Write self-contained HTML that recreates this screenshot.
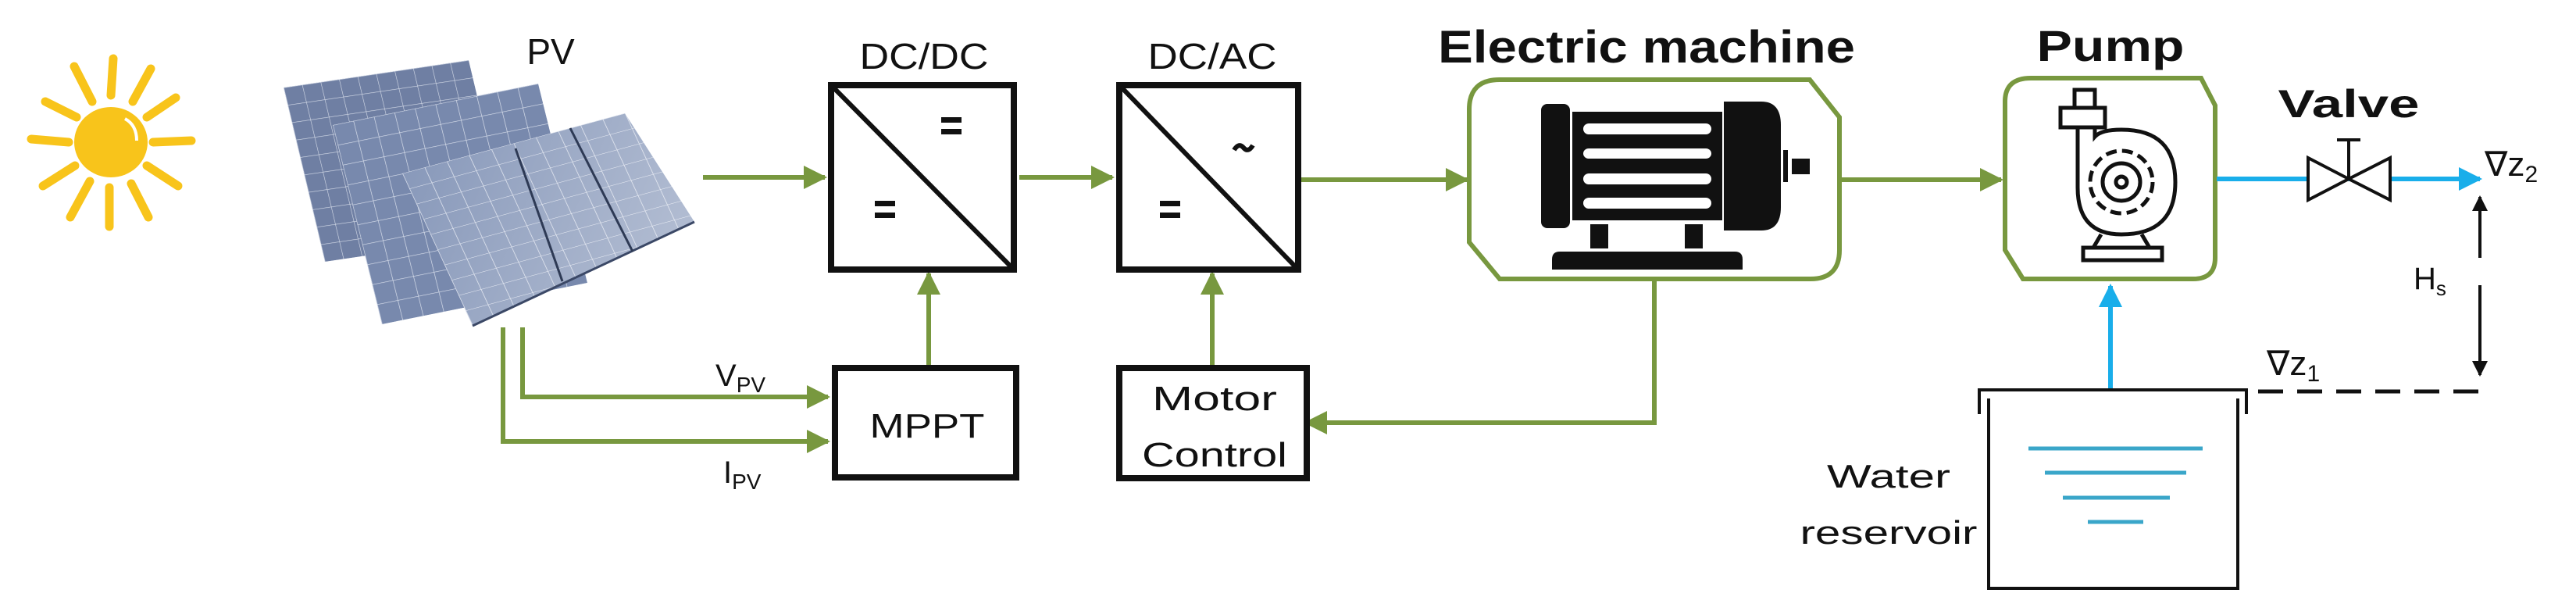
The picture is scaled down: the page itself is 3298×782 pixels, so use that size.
<!DOCTYPE html>
<html><head><meta charset="utf-8"><style>
html,body{margin:0;padding:0;background:#fff;}
svg{display:block;}
text{font-family:"Liberation Sans",sans-serif;fill:#111;}
</style></head><body>
<svg width="3298" height="782" viewBox="0 0 3298 782" xmlns="http://www.w3.org/2000/svg">
<defs>
<marker id="ag" viewBox="0 0 10 10" refX="9" refY="5" markerWidth="5" markerHeight="5" orient="auto" markerUnits="strokeWidth"><path d="M0,0 L10,5 L0,10 z" fill="#78983f"/></marker>
<marker id="ab" viewBox="0 0 10 10" refX="9" refY="5" markerWidth="5" markerHeight="5" orient="auto" markerUnits="strokeWidth"><path d="M0,0 L10,5 L0,10 z" fill="#19aeea"/></marker>
<marker id="ak" viewBox="0 0 10 10" refX="9" refY="5" markerWidth="5" markerHeight="8" orient="auto" markerUnits="strokeWidth"><path d="M0,0 L10,5 L0,10 z" fill="#111"/></marker>
<pattern id="p1" width="10" height="10" patternUnits="userSpaceOnUse" patternTransform="matrix(2.37,-0.35,0.53,2.23,363,112)">
<rect width="10" height="10" fill="#6f7fa3"/><path d="M0,0 H10 M0,0 V10" stroke="#d8deea" stroke-width="0.5"/></pattern>
<pattern id="p2" width="10" height="10" patternUnits="userSpaceOnUse" patternTransform="matrix(2.63,-0.53,0.63,2.55,426,160)">
<rect width="10" height="10" fill="#7889ad"/><path d="M0,0 H10 M0,0 V10" stroke="#dce2ee" stroke-width="0.5"/></pattern>
<pattern id="p3" width="10" height="10" patternUnits="userSpaceOnUse" patternTransform="matrix(2.85,-0.77,0.9,1.95,515,222)">
<rect width="10" height="10" fill="#8596b8"/><path d="M0,0 H10 M0,0 V10" stroke="#e4e8f2" stroke-width="0.5"/></pattern>
<linearGradient id="sh" x1="0" y1="0" x2="1" y2="0.3">
<stop offset="0" stop-color="#fff" stop-opacity="0"/><stop offset="1" stop-color="#fff" stop-opacity="0.35"/></linearGradient>
</defs>

<!-- Sun -->
<g stroke="#f8c41b" stroke-width="11" stroke-linecap="round" fill="none">
<line x1="142" y1="122" x2="145" y2="75"/>
<line x1="170" y1="130" x2="193" y2="88"/>
<line x1="188" y1="150" x2="225" y2="125"/>
<line x1="196" y1="182" x2="245" y2="180"/>
<line x1="188" y1="212" x2="228" y2="238"/>
<line x1="168" y1="235" x2="190" y2="278"/>
<line x1="140" y1="240" x2="140" y2="290"/>
<line x1="115" y1="232" x2="90" y2="278"/>
<line x1="96" y1="212" x2="55" y2="238"/>
<line x1="88" y1="182" x2="40" y2="178"/>
<line x1="98" y1="150" x2="58" y2="130"/>
<line x1="118" y1="130" x2="95" y2="85"/>
</g>
<ellipse cx="142" cy="182" rx="47" ry="45" fill="#f8c41b"/>
<path d="M160,152 q15,8 15,28" stroke="#fff" stroke-width="4" fill="none"/>

<!-- PV panels -->
<polygon points="363,112 600,77 653,300 416,335" fill="url(#p1)"/>
<polygon points="426,160 689,107 752,362 489,415" fill="url(#p2)"/>
<polygon points="515,222 800,145 889,284 605,417" fill="url(#p3)"/>
<polygon points="515,222 800,145 889,284 605,417" fill="url(#sh)"/>
<line x1="605" y1="417" x2="889" y2="284" stroke="#3b4866" stroke-width="3"/>
<line x1="660" y1="190" x2="720" y2="360" stroke="#2e3a55" stroke-width="3"/>
<line x1="730" y1="164" x2="810" y2="322" stroke="#2e3a55" stroke-width="3"/>

<text x="705" y="82" font-size="46" text-anchor="middle">PV</text>

<!-- Green connectors -->
<g stroke="#78983f" stroke-width="6" fill="none">
<line x1="900" y1="227" x2="1056" y2="227" marker-end="url(#ag)"/>
<line x1="1305" y1="227" x2="1424" y2="227" marker-end="url(#ag)"/>
<line x1="1666" y1="230" x2="1878" y2="230" marker-end="url(#ag)"/>
<line x1="2357" y1="230" x2="2562" y2="230" marker-end="url(#ag)"/>
<line x1="1189" y1="467" x2="1189" y2="350" marker-end="url(#ag)"/>
<line x1="1552" y1="467" x2="1552" y2="350" marker-end="url(#ag)"/>
<polyline points="669,419 669,508 1060,508" marker-end="url(#ag)"/>
<polyline points="644,419 644,565 1060,565" marker-end="url(#ag)"/>
<polyline points="2118,358 2118,541 1672,541" marker-end="url(#ag)"/>
</g>

<!-- DC/DC -->
<text x="1183" y="88" font-size="46" text-anchor="middle" textLength="165" lengthAdjust="spacingAndGlyphs">DC/DC</text>
<rect x="1064" y="109" width="234" height="236" fill="none" stroke="#111" stroke-width="8"/>
<line x1="1066" y1="111" x2="1296" y2="343" stroke="#111" stroke-width="6"/>
<rect x="1205" y="150" width="26" height="7" fill="#111"/><rect x="1205" y="165" width="26" height="7" fill="#111"/>
<rect x="1120" y="257" width="26" height="7" fill="#111"/><rect x="1120" y="272" width="26" height="7" fill="#111"/>

<!-- DC/AC -->
<text x="1552" y="88" font-size="46" text-anchor="middle" textLength="165" lengthAdjust="spacingAndGlyphs">DC/AC</text>
<rect x="1433" y="109" width="229" height="236" fill="none" stroke="#111" stroke-width="8"/>
<line x1="1435" y1="111" x2="1660" y2="343" stroke="#111" stroke-width="6"/>
<path d="M1580,192 q6,-10 12,-3 q6,7 12,-3" stroke="#111" stroke-width="6" fill="none"/>
<rect x="1485" y="257" width="26" height="7" fill="#111"/><rect x="1485" y="272" width="26" height="7" fill="#111"/>

<!-- MPPT -->
<rect x="1069" y="471" width="232" height="140" fill="none" stroke="#111" stroke-width="8"/>
<text x="1187" y="560" font-size="44" text-anchor="middle" textLength="147" lengthAdjust="spacingAndGlyphs">MPPT</text>
<!-- Motor control -->
<rect x="1433" y="471" width="240" height="141" fill="none" stroke="#111" stroke-width="8"/>
<text x="1555" y="525" font-size="44" text-anchor="middle" textLength="160" lengthAdjust="spacingAndGlyphs">Motor</text>
<text x="1555" y="597" font-size="44" text-anchor="middle" textLength="186" lengthAdjust="spacingAndGlyphs">Control</text>

<text x="916" y="494" font-size="40">V<tspan font-size="28" dy="8">PV</tspan></text>
<text x="926" y="618" font-size="40">I<tspan font-size="28" dy="8">PV</tspan></text>

<!-- Electric machine -->
<text x="2108" y="80" font-size="58" font-weight="bold" text-anchor="middle" textLength="534" lengthAdjust="spacingAndGlyphs">Electric machine</text>
<path d="M1920,102 L2317,102 L2355,150 L2355,320 Q2355,357 2318,357 L1920,357 L1881,310 L1881,140 Q1881,102 1920,102 Z" fill="#fff" stroke="#78983f" stroke-width="6"/>
<rect x="1973" y="133" width="37" height="159" rx="8" fill="#111"/>
<rect x="2013" y="143" width="192" height="139" fill="#111"/>
<g fill="#fff">
<rect x="2027" y="158" width="164" height="14" rx="7"/><rect x="2027" y="190" width="164" height="13" rx="7"/>
<rect x="2027" y="222" width="164" height="14" rx="7"/><rect x="2027" y="253" width="164" height="14" rx="7"/>
</g>
<path d="M2207,130 L2255,130 Q2280,130 2280,160 L2280,265 Q2280,295 2255,295 L2207,295 Z" fill="#111"/>
<rect x="2283" y="192" width="6" height="41" fill="#111"/>
<rect x="2294" y="203" width="23" height="20" fill="#111"/>
<rect x="2036" y="287" width="23" height="31" fill="#111"/><rect x="2157" y="287" width="23" height="31" fill="#111"/>
<path d="M1987,345 L1987,332 Q1987,322 1997,322 L2221,322 Q2231,322 2231,332 L2231,345 Z" fill="#111"/>

<!-- Pump -->
<text x="2702" y="78" font-size="56" font-weight="bold" text-anchor="middle" textLength="189" lengthAdjust="spacingAndGlyphs">Pump</text>
<path d="M2600,100 L2818,100 L2836,135 L2836,330 Q2836,357 2808,357 L2590,357 L2567,320 L2567,130 Q2567,100 2600,100 Z" fill="#fff" stroke="#78983f" stroke-width="6"/>
<g fill="none" stroke="#111" stroke-width="5">
<rect x="2656" y="115" width="26" height="23"/>
<rect x="2638" y="138" width="57" height="25"/>
<path d="M2660,163 L2660,240 Q2660,300 2716,300 Q2785,300 2785,233 Q2785,166 2716,166 Q2690,166 2682,175 L2682,163"/>
<circle cx="2716" cy="233" r="40" stroke-dasharray="14,7"/>
<circle cx="2716" cy="233" r="24"/>
<circle cx="2716" cy="233" r="7"/>
<path d="M2690,300 L2680,317 M2742,300 L2752,317"/>
<rect x="2667" y="317" width="101" height="16"/>
</g>

<!-- blue -->
<g stroke="#19aeea" stroke-width="6" fill="none">
<line x1="2838" y1="229" x2="3175" y2="229" marker-end="url(#ab)"/>
<line x1="2702" y1="499" x2="2702" y2="366" marker-end="url(#ab)"/>
</g>
<!-- Valve -->
<text x="3007" y="150" font-size="50" font-weight="bold" text-anchor="middle" textLength="181" lengthAdjust="spacingAndGlyphs">Valve</text>
<g fill="#fff" stroke="#111" stroke-width="4">
<polygon points="2955,202 3007,229 2955,256"/>
<polygon points="3060,202 3007,229 3060,256"/>
</g>
<line x1="3007" y1="180" x2="3007" y2="229" stroke="#111" stroke-width="4"/>
<line x1="2992" y1="179" x2="3022" y2="179" stroke="#111" stroke-width="4"/>
<text x="3181" y="225" font-size="44">∇z<tspan font-size="30" dy="8">2</tspan></text>

<!-- Hs -->
<line x1="3175" y1="330" x2="3175" y2="252" stroke="#111" stroke-width="4" marker-end="url(#ak)"/>
<line x1="3175" y1="365" x2="3175" y2="480" stroke="#111" stroke-width="4" marker-end="url(#ak)"/>
<text x="3090" y="370" font-size="40">H<tspan font-size="26" dy="8">s</tspan></text>
<line x1="2891" y1="501" x2="3175" y2="501" stroke="#111" stroke-width="5" stroke-dasharray="32,18"/>
<text x="2902" y="480" font-size="44">∇z<tspan font-size="30" dy="8">1</tspan></text>

<!-- Reservoir -->
<polyline points="2534,530 2534,499 2876,499 2876,530" fill="none" stroke="#111" stroke-width="4"/>
<polyline points="2546,510 2546,753 2865,753 2865,510" fill="none" stroke="#111" stroke-width="4"/>
<g stroke="#3aa6c9" stroke-width="5">
<line x1="2597" y1="574" x2="2820" y2="574"/>
<line x1="2618" y1="605" x2="2799" y2="605"/>
<line x1="2641" y1="637" x2="2778" y2="637"/>
<line x1="2673" y1="668" x2="2744" y2="668"/>
</g>
<text x="2418" y="624" font-size="42" text-anchor="middle" textLength="158" lengthAdjust="spacingAndGlyphs">Water</text>
<text x="2418" y="696" font-size="42" text-anchor="middle" textLength="227" lengthAdjust="spacingAndGlyphs">reservoir</text>
</svg>
</body></html>
